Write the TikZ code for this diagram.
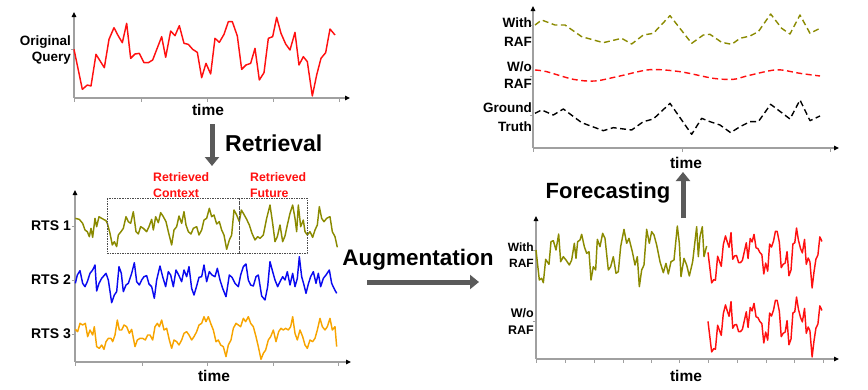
\documentclass[tikz,border=0pt]{standalone}
\usepackage{fontspec}
\setmainfont{Liberation Sans}
\usetikzlibrary{arrows.meta}
\definecolor{olivec}{HTML}{8A8A00}
\definecolor{bluec}{HTML}{0A0AF0}
\definecolor{orangec}{HTML}{F7A400}
\definecolor{redc}{HTML}{FF1010}
\definecolor{axisc}{HTML}{A0A0A0}
\definecolor{bigarrow}{HTML}{5A5A5A}
\tikzset{
  axis/.style={draw=axisc, line width=1.1pt, -{Triangle[length=5pt,width=4.5pt,color=black,fill=black]}},
  tick/.style={draw=axisc, line width=0.8pt},
  curve/.style={line width=1.45pt, line join=round},
  dcurve/.style={line width=1.4pt, line join=round, dash pattern=on 6pt off 3.5pt},
  lab/.style={font=\bfseries, inner sep=0pt},
  bigarr/.style={draw=bigarrow, line width=5pt, -{Triangle[length=9pt,width=14pt]}},
  ctxbox/.style={draw=black!70, line width=0.6pt, dash pattern=on 1.5pt off 1pt}
}
\newcommand\querycurve[1]{\draw[curve,#1] plot coordinates {(222,148) (247,268) (262,255) (273,258) (288,163) (313,203) (327,118) (342,83) (355,108) (367,128) (380,70) (392,175) (405,162) (418,160) (432,188) (445,188) (458,180) (485,110) (497,172) (512,93) (525,107) (538,77) (552,130) (565,133) (578,148) (592,157) (605,233) (618,190) (632,222) (645,115) (658,127) (672,103) (685,65) (697,65) (712,108) (725,208) (738,195) (752,190) (765,145) (778,240) (792,218) (805,115) (818,110) (830,52) (843,100) (857,132) (870,150) (885,97) (897,195) (910,170) (922,185) (937,288) (950,225) (963,175) (977,158) (990,87) (1005,105)};}
\begin{document}
\begin{tikzpicture}[x=1pt,y=-1pt]
\useasboundingbox (0,0) rectangle (868,389);

% ---------- Panel 1: original query ----------
\draw[axis] (74,98) -- (74,12);
\draw[axis] (74,98) -- (350,98);
\foreach \t in {74,141,207,273,339} \draw[tick] (\t,98) -- (\t,101.5);
\draw[tick] (70.5,49) -- (74,49);
\begin{scope}[scale=1/3]
  \querycurve{redc}
\end{scope}
\node[lab, font=\fontsize{13.5}{16}\bfseries\selectfont, align=right, anchor=east] (qlab) at (71,50) {Original\\Query};
\node[lab, font=\fontsize{15.5}{18}\bfseries\selectfont] (qtime) at (208,110) {time};

% ---------- Retrieval arrow ----------
\coordinate (retrA) at (212,124);
\coordinate (retrB) at (212,166);
\draw[bigarr] (retrA) -- (retrB);
\node[lab, font=\fontsize{23}{27}\bfseries\selectfont, anchor=west] (retrtxt) at (225,143) {Retrieval};

% ---------- Panel 2: retrieved series ----------
\draw[axis] (75,362) -- (75,190);
\draw[axis] (75,362) -- (351,362);
\foreach \t in {75,142,207,273,338} \draw[tick] (\t,362) -- (\t,365.5);
\foreach \t in {226,280,334} \draw[tick] (71.5,\t) -- (75,\t);
\begin{scope}[shift={(0,160)},scale=1/3]
\draw[curve,olivec] plot coordinates {(226,175) (238,178) (248,190) (255,210) (262,215) (268,230) (273,205) (278,232) (285,175) (290,200) (297,170) (305,175) (318,182) (322,190) (330,220) (337,255) (343,245) (350,260) (355,225) (363,215) (370,205) (378,170) (385,185) (392,190) (400,155) (408,215) (415,222) (422,200) (430,205) (440,215) (447,200) (455,178) (460,210) (467,170) (475,188) (482,158) (490,170) (498,185) (505,215) (515,255) (522,210) (530,200) (537,168) (545,190) (552,155) (558,195) (565,215) (573,222) (580,205) (590,200) (597,225) (605,210) (612,180) (620,175) (628,145) (635,170) (642,165) (650,192) (658,185) (665,210) (672,225) (680,268) (688,240) (695,225) (702,150) (710,165) (718,185) (724,150) (730,160) (740,178) (748,195) (756,220) (765,240) (773,230) (780,235) (790,225) (800,175) (810,135) (818,190) (825,245) (832,230) (840,195) (848,245) (855,228) (862,195) (870,160) (878,135) (885,175) (890,215) (895,135) (902,200) (910,180) (915,215) (922,225) (930,215) (938,232) (945,210) (952,195) (958,140) (965,175) (972,185) (980,175) (990,170) (997,215) (1005,230) (1012,262)};
\draw[curve,bluec] plot coordinates {(226,370) (232,345) (240,332) (248,370) (255,380) (262,365) (270,340) (278,330) (285,315) (290,393) (297,370) (305,355) (318,340) (325,360) (335,428) (343,405) (350,395) (357,320) (364,340) (370,395) (378,375) (385,370) (395,340) (403,308) (410,365) (418,375) (425,360) (432,350) (440,347) (447,372) (455,380) (463,415) (470,360) (480,318) (488,350) (497,380) (505,335) (512,345) (520,380) (528,330) (536,345) (545,365) (552,330) (560,350) (567,320) (575,385) (582,405) (590,378) (597,352) (605,350) (612,315) (620,365) (628,335) (636,345) (645,350) (652,325) (660,360) (668,385) (678,410) (688,345) (696,352) (705,370) (715,380) (722,345) (730,320) (738,312) (745,360) (752,375) (760,378) (768,350) (775,345) (785,408) (795,420) (803,380) (810,305) (818,335) (825,360) (833,380) (840,365) (848,350) (855,360) (862,335) (870,375) (878,340) (885,380) (892,355) (898,290) (905,350) (912,375) (918,400) (925,372) (932,350) (940,335) (948,370) (955,340) (962,380) (970,355) (978,345) (988,330) (995,370) (1002,385) (1010,400)};
\draw[curve,orangec] plot coordinates {(226,508) (233,515) (240,490) (248,495) (256,490) (263,530) (270,510) (278,525) (283,500) (290,560) (298,565) (305,555) (312,568) (318,545) (325,535) (333,535) (338,545) (345,525) (352,480) (358,510) (365,510) (372,495) (380,500) (388,520) (395,508) (405,560) (412,540) (420,535) (428,535) (436,540) (443,525) (450,525) (458,540) (465,500) (472,490) (478,500) (485,480) (492,510) (500,505) (508,540) (515,565) (522,540) (530,545) (537,555) (545,540) (552,520) (560,515) (567,525) (575,540) (582,530) (590,515) (597,495) (605,490) (612,470) (618,485) (625,470) (632,490) (640,510) (648,545) (655,540) (662,555) (670,560) (678,590) (685,555) (693,540) (700,505) (708,490) (715,495) (722,500) (730,475) (737,485) (745,470) (752,490) (760,500) (768,530) (775,560) (783,598) (790,580) (797,570) (805,540) (812,530) (820,510) (828,545) (836,515) (843,505) (850,510) (857,505) (865,510) (872,500) (878,470) (885,520) (892,540) (900,510) (908,530) (915,555) (922,565) (930,540) (938,545) (945,535) (952,510) (960,475) (967,500) (975,510) (982,500) (990,475) (997,510) (1005,500) (1010,560)};
\end{scope}
\draw[ctxbox] (107,198) rectangle (239,253);
\draw[ctxbox] (239,198) rectangle (307,253);
\node[lab, font=\fontsize{12.3}{16}\bfseries\selectfont, text=redc, align=left, anchor=west] (ctxtxt) at (153,185) {Retrieved\\Context};
\node[lab, font=\fontsize{12.3}{16}\bfseries\selectfont, text=redc, align=left, anchor=west] (futtxt) at (250,185) {Retrieved\\Future};
\node[lab, font=\fontsize{14}{17}\bfseries\selectfont, anchor=east] (rts1) at (71,226) {RTS 1};
\node[lab, font=\fontsize{14}{17}\bfseries\selectfont, anchor=east] (rts2) at (71,280) {RTS 2};
\node[lab, font=\fontsize{14}{17}\bfseries\selectfont, anchor=east] (rts3) at (71,334) {RTS 3};
\node[lab, font=\fontsize{15.5}{18}\bfseries\selectfont] (rtstime) at (214,376) {time};

% ---------- Augmentation arrow ----------
\node[lab, font=\fontsize{22.5}{26}\bfseries\selectfont] (augtxt) at (418,260) {Augmentation};
\coordinate (augA) at (367,282);
\coordinate (augB) at (479,282);
\draw[bigarr] (augA) -- (augB);

% ---------- Panel 4: augmented input ----------
\draw[axis] (536,359) -- (536,216);
\draw[axis] (536,359) -- (839,359);
\foreach \t in {536,565,594,623,651,679,708,737,766,794,823} \draw[tick] (\t,359) -- (\t,362.5);
\foreach \t in {250,321} \draw[tick] (532.5,\t) -- (536,\t);
\begin{scope}[shift={(480,200)},scale=1/3]
\draw[curve,olivec] plot coordinates {(168,150) (178,240) (185,235) (190,248) (197,178) (207,193) (213,125) (220,122) (228,150) (236,102) (242,185) (250,170) (258,180) (268,195) (275,180) (283,130) (288,175) (293,125) (300,120) (305,103) (313,140) (320,160) (327,155) (333,240) (340,200) (347,210) (352,118) (360,140) (368,100) (375,115) (385,210) (392,200) (400,170) (408,220) (415,215) (422,140) (432,88) (440,130) (447,115) (457,155) (465,195) (472,170) (478,260) (485,210) (492,195) (500,88) (508,130) (515,95) (522,105) (530,135) (540,185) (550,218) (558,190) (565,222) (573,185) (582,180) (592,78) (598,130) (603,230) (612,175) (620,195) (628,228) (638,185) (650,80) (655,170) (660,110) (667,80) (672,170) (680,138)};
\end{scope}
\begin{scope}[shift={(675.68,214.8)},xscale=0.1456,yscale=0.254]
  \querycurve{redc}
\end{scope}
\begin{scope}[shift={(675.68,283.8)},xscale=0.1456,yscale=0.254]
  \querycurve{redc}
\end{scope}
\node[lab, font=\fontsize{12}{16}\bfseries\selectfont, align=right, anchor=east] (with2) at (534,255) {With\\RAF};
\node[lab, font=\fontsize{12.5}{17}\bfseries\selectfont, align=right, anchor=east] (wo2) at (534,321.5) {W/o\\RAF};
\node[lab, font=\fontsize{15.5}{18}\bfseries\selectfont] (augtime) at (686,376) {time};

% ---------- Forecasting arrow ----------
\coordinate (foreA) at (683,218);
\coordinate (foreB) at (683,172);
\draw[bigarr] (foreA) -- (foreB);
\node[lab, font=\fontsize{22}{26}\bfseries\selectfont] (foretxt) at (608,193) {Forecasting};

% ---------- Panel 5: forecasts ----------
\draw[axis] (533,148) -- (533,6);
\draw[axis] (533,148) -- (839,148);
\foreach \t in {533,682,830} \draw[tick] (\t,148) -- (\t,151.5);
\foreach \t in {25,76,115} \draw[tick] (529.5,\t) -- (533,\t);
\begin{scope}[shift={(480,0)},scale=1/3]
\draw[dcurve,olivec] plot coordinates {(165,75) (185,60) (225,75) (255,75) (305,110) (370,128) (425,115) (455,132) (490,105) (520,100) (570,47) (635,130) (670,105) (690,103) (725,127) (755,133) (780,115) (810,108) (835,95) (872,42) (905,85) (930,102) (960,45) (990,100) (1020,85)};
\draw[dcurve,redc] plot[smooth] coordinates {(165,210) (200,215) (280,238) (345,243) (420,228) (510,209) (600,215) (700,235) (760,238) (800,228) (870,212) (905,210) (960,220) (1020,228)};
\draw[dcurve,black] plot coordinates {(165,340) (185,330) (220,345) (250,327) (305,368) (370,392) (400,383) (455,390) (490,365) (520,357) (570,310) (635,403) (665,355) (690,365) (720,375) (752,398) (780,380) (810,365) (835,365) (872,313) (930,357) (960,300) (990,362) (1020,348)};
\end{scope}
\node[lab, font=\fontsize{13.5}{19}\bfseries\selectfont, align=right, anchor=east] (with1) at (532,32.5) {With\\RAF};
\node[lab, font=\fontsize{13.5}{17}\bfseries\selectfont, align=right, anchor=east] (wo1) at (532,75) {W/o\\RAF};
\node[lab, font=\fontsize{13.5}{19}\bfseries\selectfont, align=right, anchor=east] (gt) at (532,117.5) {Ground\\Truth};
\node[lab, font=\fontsize{15.5}{18}\bfseries\selectfont] (outtime) at (686,163) {time};
\end{tikzpicture}
\end{document}
